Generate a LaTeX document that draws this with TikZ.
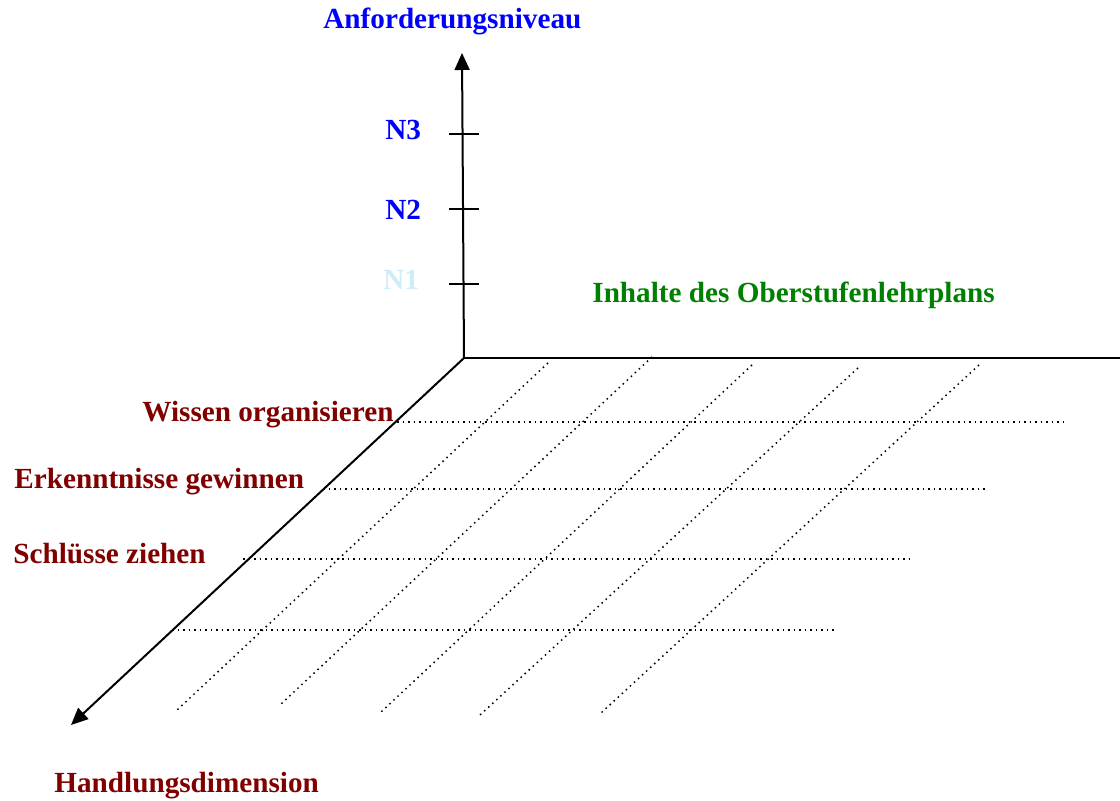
\documentclass[tikz,border=0pt]{standalone}
\usepackage{fontspec}
\setmainfont{Liberation Serif}
\usetikzlibrary{arrows.meta}
\definecolor{lvlblue}{RGB}{0,0,255}
\definecolor{lvllight}{RGB}{206,236,250}
\definecolor{cntgreen}{RGB}{0,128,0}
\definecolor{actred}{RGB}{128,0,0}
\tikzset{
  axis/.style = {line width=1pt, -{Triangle[length=8.5pt,width=7.5pt]}},
  base/.style = {line width=1.1pt},
  tck/.style  = {line width=0.8pt},
  grd/.style  = {dotted, line width=0.75pt},
  lbl/.style  = {font=\fontsize{14.6}{17}\selectfont\bfseries,
                 inner sep=0pt, anchor=base west}
}
\begin{document}
\begin{tikzpicture}[x=0.5pt, y=-0.5pt]
  \useasboundingbox (0,0) rectangle (1120,801);
  % axes
  \coordinate (o)   at (464,358);
  \coordinate (up)  at (462,53);
  \coordinate (fw)  at (71,725);
  \coordinate (rt)  at (1120,358);
  \draw[axis] (o) -- (up);
  \draw[axis] (o) -- (fw);
  \draw[base] (o) -- (rt);
  % level ticks
  \draw[tck] (449,134) -- (479,134);
  \draw[tck] (449,209) -- (479,209);
  \draw[tck] (449,284) -- (479,284);
  % grid
  \draw[grd] (397,422) -- (1064,422);
  \draw[grd] (323,489) -- (987,489);
  \draw[grd] (243,559) -- (913,559);
  \draw[grd] (172,630) -- (837,630);
  \draw[grd] (548,363) -- (176,711);
  \draw[grd] (652,357) -- (280,705);
  \draw[grd] (752,365) -- (380,713);
  \draw[grd] (858,368) -- (480,715);
  \draw[grd] (979,365) -- (601,713);
  % labels
  \node[lbl, text=lvlblue]  (niv) at (323,29)  {Anforderungsniveau};
  \node[lbl, text=lvlblue]  (n3)  at (385,140) {N3};
  \node[lbl, text=lvlblue]  (n2)  at (385,220) {N2};
  \node[lbl, text=lvllight] (n1)  at (383,290) {N1};
  \node[lbl, text=cntgreen] (inh) at (592,303) {Inhalte des Oberstufenlehrplans};
  \node[lbl, text=actred]   (wis) at (142,422) {Wissen organisieren};
  \node[lbl, text=actred]   (erk) at (14,489)  {Erkenntnisse gewinnen};
  \node[lbl, text=actred]   (sch) at (13,564)  {Schlüsse ziehen};
  \node[lbl, text=actred]   (hdl) at (54,793)  {Handlungsdimension};
\end{tikzpicture}
\end{document}
